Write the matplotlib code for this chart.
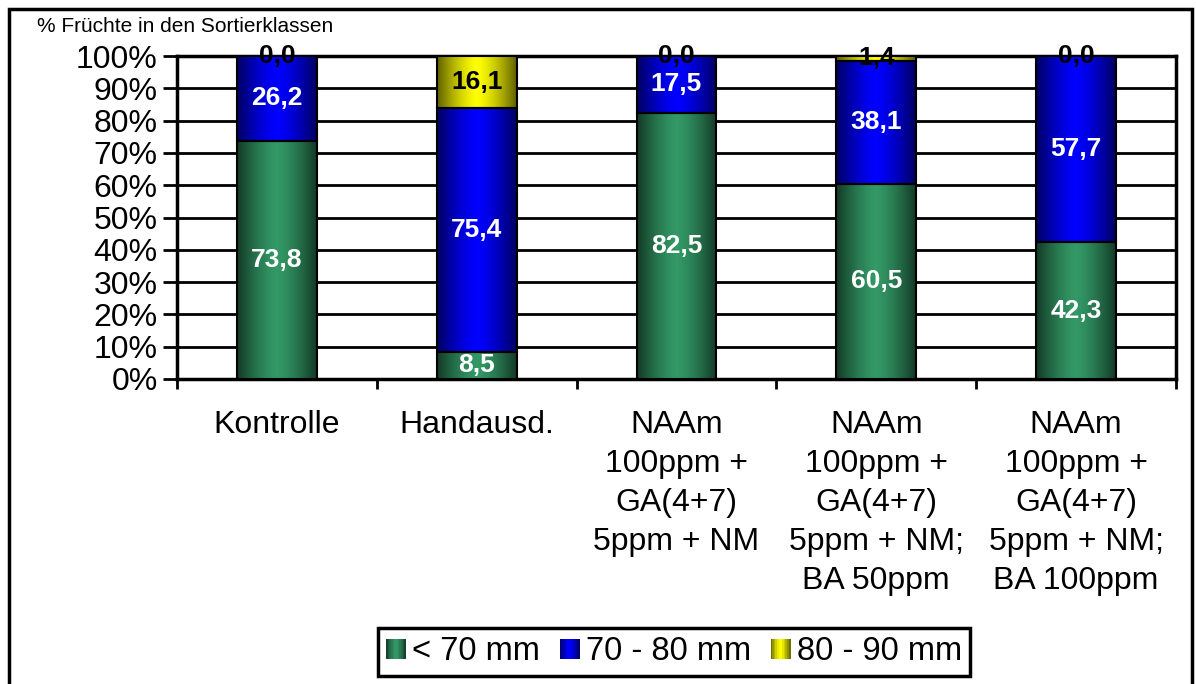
import numpy as np
import matplotlib
matplotlib.use('Agg')
import matplotlib.pyplot as plt
from matplotlib.patches import Rectangle
from matplotlib.legend_handler import HandlerBase
from matplotlib.colors import to_rgb

plt.rcParams['font.family'] = ['Liberation Sans', 'DejaVu Sans']

categories = ['Kontrolle', 'Handausd.',
              'NAAm\n100ppm +\nGA(4+7)\n5ppm + NM',
              'NAAm\n100ppm +\nGA(4+7)\n5ppm + NM;\nBA 50ppm',
              'NAAm\n100ppm +\nGA(4+7)\n5ppm + NM;\nBA 100ppm']
series_names = ['< 70 mm', '70 - 80 mm', '80 - 90 mm']
lt70 = [73.8, 8.5, 82.5, 60.5, 42.3]
mm70_80 = [26.2, 75.4, 17.5, 38.1, 57.7]
mm80_90 = [0.0, 16.1, 0.0, 1.4, 0.0]

colors = ['#339966', '#0000FF', '#FFFF00']
label_colors = ['white', 'white', 'black']


def gradient(color, n=64):
    c = np.array(to_rgb(color))
    x = np.linspace(0, 1, n)
    f = 1 - 0.62 * np.abs(2 * x - 1) ** 1.4
    return (f[:, None] * c[None, :])[None, :, :]


class GradientHandler(HandlerBase):
    def create_artists(self, legend, orig_handle, xdescent, ydescent,
                       width, height, fontsize, trans):
        grad = gradient(orig_handle.get_facecolor())[0]
        n = 12
        arts = []
        for i in range(n):
            col = grad[int((i + 0.5) / n * grad.shape[0])]
            r = Rectangle((-xdescent + width * i / n, -ydescent),
                          width / n + 0.3, height, facecolor=col,
                          edgecolor='none', transform=trans)
            arts.append(r)
        return arts


fig = plt.figure(figsize=(11.96, 6.84), dpi=100)
ax = fig.add_axes([177 / 1196, 1 - 379 / 684, (1176 - 177) / 1196, (379 - 56) / 684])

x = np.arange(len(categories))
series = [lt70, mm70_80, mm80_90]
bottom = np.zeros(len(categories))
handles = []
for vals, col, lc, name in zip(series, colors, label_colors, series_names):
    bars = ax.bar(x, vals, width=0.4, bottom=bottom, color=col,
                  edgecolor='black', linewidth=1.5, zorder=3, label=name)
    for b in bars:
        bx, by = b.get_x(), b.get_y()
        bw, bh = b.get_width(), b.get_height()
        if bh > 0:
            im = ax.imshow(gradient(col), extent=[bx, bx + bw, by, by + bh],
                           aspect='auto', zorder=3.5, interpolation='bilinear')
            im.set_clip_path(b)
            b.set_facecolor('none')
            b.set_zorder(4)
    for xi, v, bt in zip(x, vals, bottom):
        ax.text(xi, bt + v / 2, f'{v:.1f}'.replace('.', ','), ha='center',
                va='center', color=lc, fontsize=19, fontweight='bold', zorder=6)
    handles.append(Rectangle((0, 0), 1, 1, facecolor=col))
    bottom = bottom + np.array(vals)

ax.set_xlim(-0.5, len(categories) - 0.5)
ax.set_ylim(0, 100)
ax.set_yticks(np.arange(0, 101, 10))
ax.set_yticklabels([f'{v}%' for v in range(0, 101, 10)])
ax.yaxis.grid(True, color='black', linewidth=2, zorder=1)
ax.set_axisbelow(True)
ax.set_xticks(x)
ax.set_xticklabels(categories, linespacing=1.40)
ax.set_xticks(np.arange(-0.5, len(categories), 1), minor=True)
ax.tick_params(axis='x', which='major', length=0, pad=22, labelsize=23)
ax.tick_params(axis='x', which='minor', length=7, width=2, direction='out')
ax.tick_params(axis='y', length=10, width=2, direction='out', labelsize=23, pad=4)
for s in ax.spines.values():
    s.set_linewidth(2.5)
    s.set_color('black')

fig.text(37 / 1196, 1 - 26 / 684, '% Früchte in den Sortierklassen',
         fontsize=15, ha='left', va='center')

leg = fig.legend(handles, series_names, loc='center',
                 bbox_to_anchor=(674 / 1196, 1 - 652 / 684), ncol=3,
                 fontsize=23.5, handler_map={Rectangle: GradientHandler()},
                 handlelength=0.6, handleheight=0.6, handletextpad=0.2,
                 columnspacing=0.6, borderpad=0.25, fancybox=False,
                 edgecolor='black', framealpha=1)
leg.get_frame().set_linewidth(2.5)

fig.patches.append(Rectangle((9 / 1196, -0.02), (1192 - 9) / 1196, 1.02 - 9 / 684,
                             transform=fig.transFigure, fill=False,
                             edgecolor='black', linewidth=2.5))

fig.savefig('out.png', dpi=100)
